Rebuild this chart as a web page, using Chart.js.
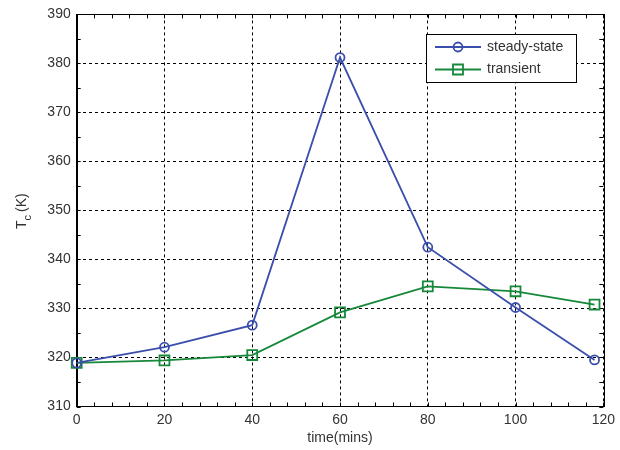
<!DOCTYPE html>
<html>
<head>
<meta charset="utf-8">
<script src="https://cdn.jsdelivr.net/npm/chart.js@4/dist/chart.umd.min.js"></script>
<style>
  html,body{margin:0;padding:0;background:#fff;}
  canvas{display:block;}
</style>
</head>
<body>
<canvas id="tc" width="620" height="450"></canvas>
<script>
/* ---------- data ---------- */
const timeMins   = [0, 20, 40, 60, 80, 100, 118];
const steadyTc   = [318.9, 322.1, 326.6, 381.2, 342.5, 330.2, 319.5];
const transTc    = [318.9, 319.4, 320.5, 329.2, 334.5, 333.5, 330.8];
const seriesNames= ['steady-state', 'transient'];
const xRange     = [0, 120];
const yRange     = [310, 390];

/* ---------- look ---------- */
const blue  = '#3a4fab';
const green = '#17883a';
const ink   = '#333';
const font  = {family:'"Liberation Sans", Arial, sans-serif', size:14};

/* frame, inward ticks, y title and the boxed legend (MATLAB style) */
const matlabFrame = {
  id:'matlabFrame',
  beforeDatasetsDraw(chart){
    const {ctx, chartArea:a, scales:{x, y}} = chart;
    ctx.save();
    ctx.strokeStyle = '#000';
    ctx.lineWidth = 1;
    ctx.strokeRect(Math.round(a.left)+.5, Math.round(a.top)+.5,
                   Math.round(a.right-a.left), Math.round(a.bottom-a.top));
    ctx.beginPath();
    for(let v=xRange[0]; v<=xRange[1]; v+=4){
      const px = Math.round(x.getPixelForValue(v))+.5;
      ctx.moveTo(px, a.bottom); ctx.lineTo(px, a.bottom-4);
      ctx.moveTo(px, a.top);    ctx.lineTo(px, a.top+4);
    }
    for(let v=yRange[0]; v<=yRange[1]; v+=5){
      const py = Math.round(y.getPixelForValue(v))+.5;
      ctx.moveTo(a.left, py);  ctx.lineTo(a.left+4, py);
      ctx.moveTo(a.right, py); ctx.lineTo(a.right-4, py);
    }
    ctx.stroke();
    ctx.restore();
  },
  afterDraw(chart){
    const {ctx} = chart;
    ctx.save();
    /* y title: T with subscript c, then (K) */
    ctx.translate(26, 229);
    ctx.rotate(-Math.PI/2);
    ctx.fillStyle = ink;
    ctx.textBaseline = 'alphabetic';
    ctx.font = `14px ${font.family}`;
    ctx.fillText('T', 0, 0);
    let w = ctx.measureText('T').width;
    ctx.font = `11px ${font.family}`;
    ctx.fillText('c', w, 5);
    w += ctx.measureText('c').width + 3;
    ctx.font = `14px ${font.family}`;
    ctx.fillText('(K)', w, 0);
    ctx.restore();

    /* legend box */
    ctx.save();
    ctx.fillStyle = '#fff';
    ctx.fillRect(426.5, 34.5, 150, 48);
    ctx.strokeStyle = '#000';
    ctx.lineWidth = 1;
    ctx.strokeRect(426.5, 34.5, 150, 48);
    chart.data.datasets.forEach((ds, i) => {
      const ry = 47 + i*22.5;
      ctx.strokeStyle = ds.borderColor;
      ctx.lineWidth = 1.8;
      ctx.beginPath();
      ctx.moveTo(435, ry); ctx.lineTo(481, ry);
      ctx.stroke();
      ctx.beginPath();
      if(ds.pointStyle === 'circle') ctx.arc(458, ry, 4.5, 0, Math.PI*2);
      else ctx.rect(453, ry-5, 10, 10);
      ctx.stroke();
      ctx.fillStyle = ink;
      ctx.font = `14px ${font.family}`;
      ctx.textBaseline = 'middle';
      ctx.fillText(ds.label, 487, ry);
    });
    ctx.restore();
  }
};

new Chart(document.getElementById('tc'), {
  type:'line',
  data:{
    datasets:[
      {label:seriesNames[0], data:timeMins.map((t,i)=>({x:t, y:steadyTc[i]})),
       borderColor:blue, borderWidth:1.8, pointStyle:'circle', pointRadius:4.5,
       pointBorderWidth:1.8, pointBorderColor:blue, pointBackgroundColor:'rgba(0,0,0,0)',
       tension:0, clip:false},
      {label:seriesNames[1], data:timeMins.map((t,i)=>({x:t, y:transTc[i]})),
       borderColor:green, borderWidth:1.8, pointStyle:'rect', pointRadius:7,
       pointBorderWidth:1.8, pointBorderColor:green, pointBackgroundColor:'rgba(0,0,0,0)',
       tension:0, clip:false}
    ]
  },
  options:{
    responsive:false, animation:false, devicePixelRatio:1,
    layout:{padding:{top:11, right:13.5, left:0, bottom:0}},
    plugins:{legend:{display:false}, tooltip:{enabled:false}},
    scales:{
      x:{type:'linear', min:xRange[0], max:xRange[1],
         ticks:{stepSize:20, color:ink, font, padding:5, maxRotation:0},
         grid:{color:'#000', lineWidth:1, drawTicks:false},
         border:{display:true, color:'#000', width:1, dash:[3,3]},
         title:{display:true, text:'time(mins)', color:ink, font, padding:{top:0, bottom:3}},
         afterFit(s){ s.height = 43.5; }},
      y:{type:'linear', min:yRange[0], max:yRange[1],
         ticks:{stepSize:10, color:ink, font, padding:6},
         grid:{color:'#000', lineWidth:1, drawTicks:false},
         border:{display:true, color:'#000', width:1, dash:[3,3]},
         afterFit(s){ s.width = 76.7; }}
    }
  },
  plugins:[matlabFrame]
});
</script>
</body>
</html>
